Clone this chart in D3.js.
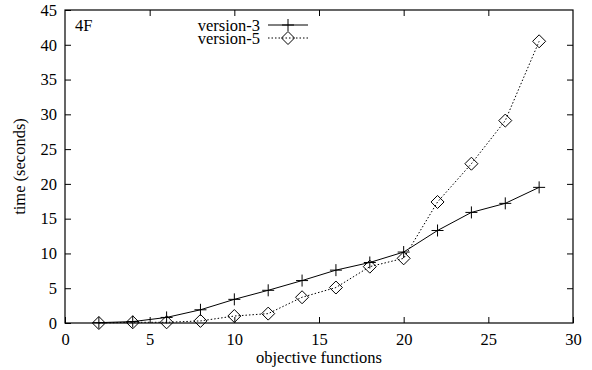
<html>

<head>
    <script src="https://d3js.org/d3.v7.min.js"></script>
    <style>
        body {
            margin: 0;
            background: #fff;
        }

        .axis .domain {
            display: none;
        }

        .axis line {
            stroke: #000;
        }
    </style>
</head>

<body>
    <svg height="370" width="592" id="chart"></svg>
    <script>
        // data
        const xs = [2, 4, 6, 8, 10, 12, 14, 16, 18, 20, 22, 24, 26, 28];
        const version3 = [0.05, 0.2, 0.8, 1.9, 3.4, 4.7, 6.1, 7.6, 8.7, 10.2, 13.3, 15.9, 17.2, 19.5];
        const version5 = [0, 0.1, 0.1, 0.3, 1.0, 1.35, 3.7, 5.1, 8.1, 9.3, 17.4, 22.9, 29.1, 40.5];
        const xTicks = [0, 5, 10, 15, 20, 25, 30];
        const yTicks = [0, 5, 10, 15, 20, 25, 30, 35, 40, 45];
        const seriesNames = ["version-3", "version-5"];

        const FONT = '"Liberation Serif", "Times New Roman", Times, serif';
        const FSIZE = "16.5px";

        const svg = d3.select("#chart");
        const margins = { top: 10, right: 19, bottom: 47, left: 65 };
        const chartWidth = 592 - margins.left - margins.right;
        const chartHeight = 370 - margins.top - margins.bottom;

        const xScale = d3.scaleLinear().domain([0, 30]).range([0, chartWidth]);
        const yScale = d3.scaleLinear().domain([0, 45]).range([chartHeight, 0]);

        const chartArea = svg.append("g")
            .attr("transform", `translate(${margins.left},${margins.top})`);

        const tick = 6;

        // bottom axis with labels, ticks pointing inward
        chartArea.append("g")
            .attr("class", "axis")
            .attr("transform", `translate(0,${chartHeight})`)
            .call(d3.axisBottom(xScale).tickValues(xTicks).tickSizeInner(-tick).tickSizeOuter(0).tickPadding(10));

        // mirrored top ticks
        chartArea.append("g")
            .attr("class", "axis")
            .call(d3.axisTop(xScale).tickValues(xTicks.slice(1, -1)).tickSizeInner(-tick).tickSizeOuter(0).tickFormat(""));

        // left axis with labels
        chartArea.append("g")
            .attr("class", "axis")
            .call(d3.axisLeft(yScale).tickValues(yTicks).tickSizeInner(-tick).tickSizeOuter(0).tickPadding(8));

        // mirrored right ticks
        chartArea.append("g")
            .attr("class", "axis")
            .attr("transform", `translate(${chartWidth},0)`)
            .call(d3.axisRight(yScale).tickValues(yTicks.slice(1, -1)).tickSizeInner(-tick).tickSizeOuter(0).tickFormat(""));

        svg.selectAll(".axis").attr("font-family", FONT).attr("font-size", FSIZE);

        // plot border
        chartArea.append("rect")
            .attr("width", chartWidth)
            .attr("height", chartHeight)
            .attr("fill", "none")
            .attr("stroke", "#000")
            .attr("stroke-width", 1.2);

        // axis titles
        svg.append("text")
            .attr("text-anchor", "middle")
            .attr("x", margins.left + chartWidth / 2)
            .attr("y", 363)
            .text("objective functions");

        svg.append("text")
            .attr("text-anchor", "middle")
            .attr("transform", `translate(25,${margins.top + chartHeight / 2}) rotate(-90)`)
            .text("time (seconds)");

        // panel label
        chartArea.append("text")
            .attr("x", 10)
            .attr("y", 21)
            .text("4F");

        const line = d3.line()
            .x(d => xScale(d[0]))
            .y(d => yScale(d[1]));

        const pts3 = xs.map((x, i) => [x, version3[i]]);
        const pts5 = xs.map((x, i) => [x, version5[i]]);

        chartArea.append("path")
            .attr("d", line(pts3))
            .attr("fill", "none")
            .attr("stroke", "#000")
            .attr("stroke-width", 1);

        chartArea.append("path")
            .attr("d", line(pts5))
            .attr("fill", "none")
            .attr("stroke", "#000")
            .attr("stroke-width", 1)
            .attr("stroke-dasharray", "1.5,2");

        const plus = (s) => `M${-s},0H${s}M0,${-s}V${s}`;
        const diamond = (s) => `M0,${-s}L${s},0L0,${s}L${-s},0Z`;

        chartArea.selectAll(".p3").data(pts3)
            .join("path")
            .attr("class", "p3")
            .attr("transform", d => `translate(${xScale(d[0])},${yScale(d[1])})`)
            .attr("d", plus(6))
            .attr("stroke", "#000")
            .attr("fill", "none");

        chartArea.selectAll(".p5").data(pts5)
            .join("path")
            .attr("class", "p5")
            .attr("transform", d => `translate(${xScale(d[0])},${yScale(d[1])})`)
            .attr("d", diamond(6.5))
            .attr("stroke", "#000")
            .attr("fill", "none");

        // legend
        const legendY = [25, 38];
        seriesNames.forEach((name, i) => {
            const y = legendY[i];
            svg.append("text")
                .attr("text-anchor", "end")
                .attr("x", 260)
                .attr("y", y + 6)
                .text(name);
            const sample = svg.append("path")
                .attr("d", `M268,${y}H308`)
                .attr("stroke", "#000")
                .attr("fill", "none");
            if (i === 1) sample.attr("stroke-dasharray", "1.5,2");
            svg.append("path")
                .attr("transform", `translate(288,${y})`)
                .attr("d", i === 0 ? plus(6) : diamond(6.5))
                .attr("stroke", "#000")
                .attr("fill", "none");
        });

        svg.selectAll("text").attr("font-family", FONT).attr("font-size", FSIZE).attr("fill", "#000");
    </script>
</body>

</html>
